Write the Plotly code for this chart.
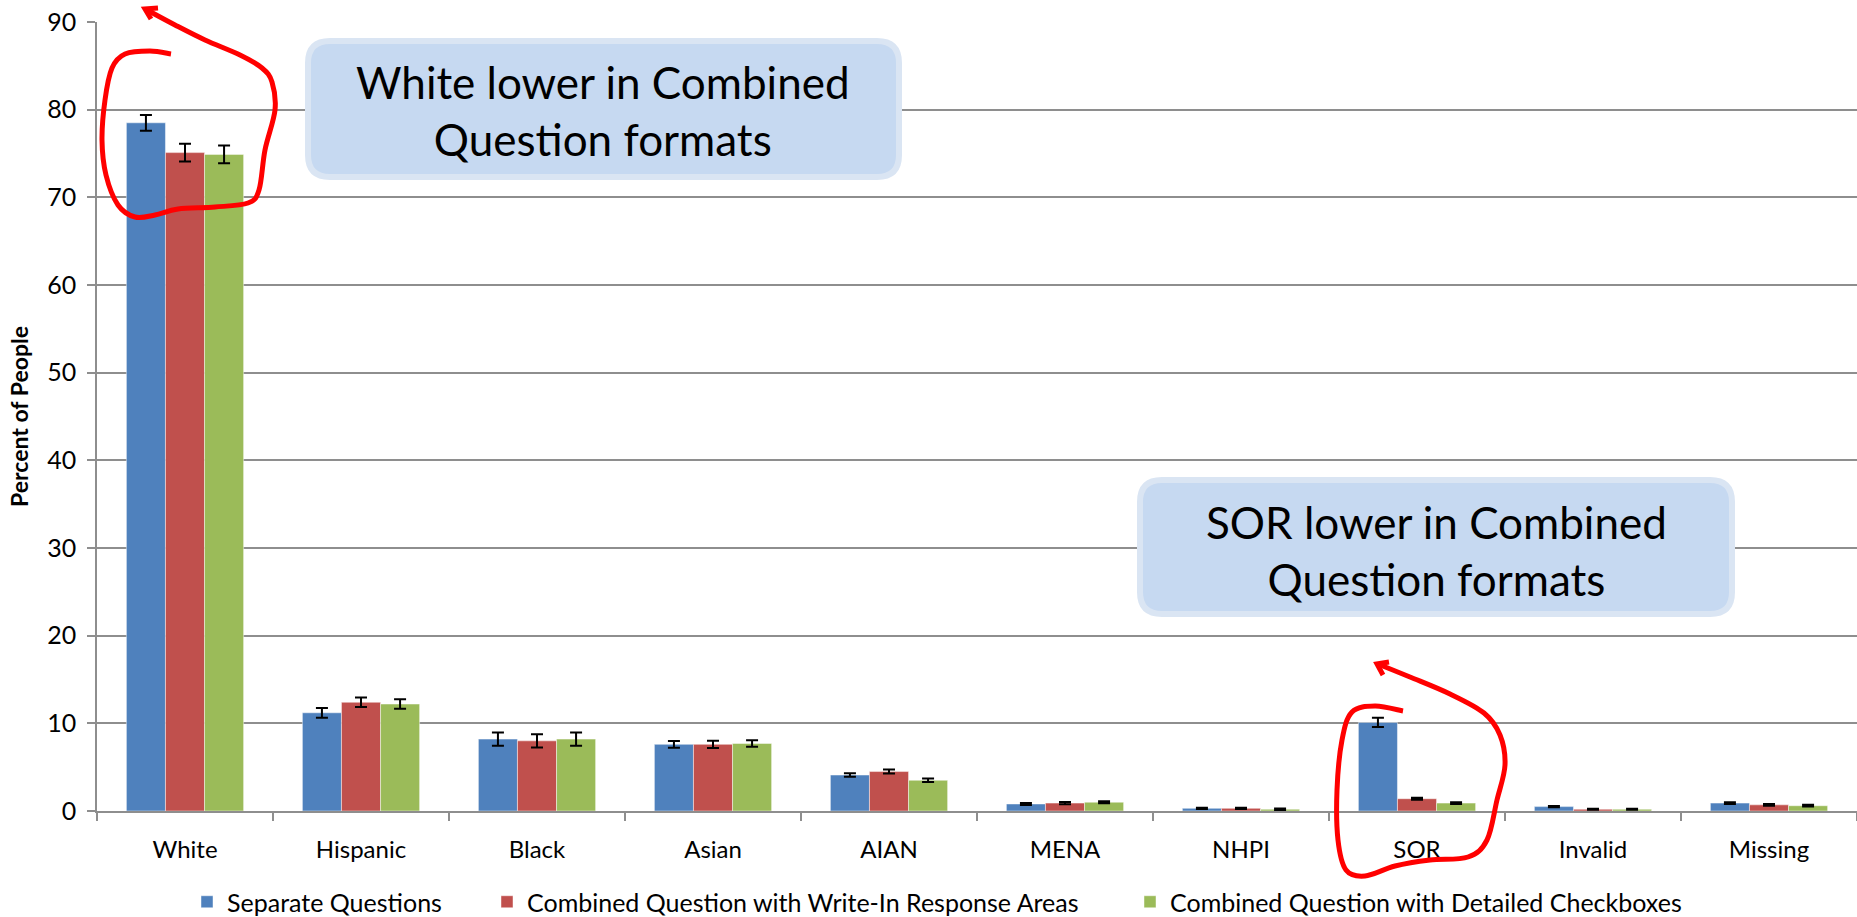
import plotly.graph_objects as go

# ---------------- data ----------------
categories = ["White", "Hispanic", "Black", "Asian", "AIAN", "MENA", "NHPI", "SOR", "Invalid", "Missing"]
series_names = [
    "Separate Questions",
    "Combined Question with Write-In Response Areas",
    "Combined Question with Detailed Checkboxes",
]
separate_vals = [78.5, 11.2, 8.2, 7.6, 4.1, 0.8, 0.3, 10.1, 0.5, 0.9]
separate_err = [0.9, 0.55, 0.75, 0.38, 0.2, 0.12, 0.08, 0.53, 0.08, 0.1]
writein_vals = [75.1, 12.4, 8.0, 7.6, 4.5, 0.9, 0.3, 1.4, 0.2, 0.7]
writein_err = [1.0, 0.55, 0.75, 0.4, 0.22, 0.12, 0.08, 0.12, 0.06, 0.1]
checkbox_vals = [74.9, 12.2, 8.2, 7.7, 3.5, 1.0, 0.2, 0.9, 0.2, 0.6]
checkbox_err = [1.0, 0.55, 0.75, 0.38, 0.2, 0.12, 0.08, 0.1, 0.06, 0.1]
y_ticks = [0, 10, 20, 30, 40, 50, 60, 70, 80, 90]
callouts = ["White lower in Combined<br>Question formats", "SOR lower in Combined<br>Question formats"]

colors = ["#4F81BD", "#C0504D", "#9BBB59"]
FONT = "Lato, Carlito, Calibri, sans-serif"

# ---------------- geometry (pixels) ----------------
W, H = 1857, 917
ML, MR, MT, MB = 97, 0, 22, 106
PW = W - ML - MR
PH = H - MT - MB
BOTTOM = H - MB


def to_paper(px, py):
    return (px - ML) / PW, (BOTTOM - py) / PH


def rounded_rect(x0, y0, x1, y1, r):
    def p(x, y):
        a, b = to_paper(x, y)
        return f"{a:.5f},{b:.5f}"
    return (
        f"M{p(x0 + r, y0)} L{p(x1 - r, y0)} Q{p(x1, y0)} {p(x1, y0 + r)} "
        f"L{p(x1, y1 - r)} Q{p(x1, y1)} {p(x1 - r, y1)} "
        f"L{p(x0 + r, y1)} Q{p(x0, y1)} {p(x0, y1 - r)} "
        f"L{p(x0, y0 + r)} Q{p(x0, y0)} {p(x0 + r, y0)} Z"
    )


def smooth_path(points):
    # Catmull-Rom -> cubic bezier in paper coordinates
    pp = [to_paper(x, y) for x, y in points]
    d = f"M{pp[0][0]:.5f},{pp[0][1]:.5f}"
    n = len(pp)
    for i in range(n - 1):
        p0 = pp[i - 1] if i > 0 else pp[i]
        p1 = pp[i]
        p2 = pp[i + 1]
        p3 = pp[i + 2] if i + 2 < n else pp[i + 1]
        c1 = (p1[0] + (p2[0] - p0[0]) / 6, p1[1] + (p2[1] - p0[1]) / 6)
        c2 = (p2[0] - (p3[0] - p1[0]) / 6, p2[1] - (p3[1] - p1[1]) / 6)
        d += f" C{c1[0]:.5f},{c1[1]:.5f} {c2[0]:.5f},{c2[1]:.5f} {p2[0]:.5f},{p2[1]:.5f}"
    return d


def poly_path(points):
    pp = [to_paper(x, y) for x, y in points]
    return "M" + " L".join(f"{a:.5f},{b:.5f}" for a, b in pp)


# ---------------- figure ----------------
fig = go.Figure()
all_vals = [separate_vals, writein_vals, checkbox_vals]
all_errs = [separate_err, writein_err, checkbox_err]
legend_ids = ["legend", "legend2", "legend3"]
for name, vals, errs, col, lg in zip(series_names, all_vals, all_errs, colors, legend_ids):
    fig.add_trace(go.Bar(
        x=categories, y=vals, name=name, legend=lg,
        marker=dict(color=col, line=dict(color="rgba(255,255,255,0.45)", width=1)),
        error_y=dict(type="data", array=errs, visible=True, color="black", thickness=2, width=6),
    ))

legend_px = [187, 487, 1130]
legend_cy = 902
leg_common = dict(
    orientation="h", xref="container", yref="container", xanchor="left", yanchor="middle",
    y=1 - legend_cy / H, bgcolor="rgba(0,0,0,0)", font=dict(family=FONT, size=25, color="black"),
)

shapes = []
# callout boxes
box_rects = [(308, 41, 899, 177), (1140, 480, 1732, 614)]
for (x0, y0, x1, y1) in box_rects:
    shapes.append(dict(type="path", xref="paper", yref="paper", layer="above",
                       path=rounded_rect(x0, y0, x1, y1, 22),
                       fillcolor="#C6D9F1", line=dict(color="#DAE5F3", width=6)))

# red hand-drawn scribbles
scribble1 = [(171, 54), (150, 51), (125, 54), (112, 68), (105, 100), (102, 140), (106, 175), (118, 205),
             (135, 217), (155, 215), (178, 209), (215, 207), (248, 203), (259, 190), (265, 150),
             (275, 110), (272, 82), (262, 68), (240, 55), (205, 40), (175, 25), (147, 10)]
arrow1 = [(158, 8), (145, 9), (151, 19)]
scribble2 = [(1403, 711), (1375, 706), (1352, 712), (1342, 740), (1337, 790), (1338, 840), (1346, 870),
             (1365, 876), (1395, 866), (1430, 860), (1468, 857), (1487, 840), (1497, 800), (1505, 765),
             (1500, 735), (1484, 713), (1450, 694), (1410, 677), (1378, 664)]
arrow2 = [(1389, 662), (1377, 664), (1383, 675)]
for pts in (scribble1, scribble2):
    shapes.append(dict(type="path", xref="paper", yref="paper", layer="above",
                       path=smooth_path(pts), line=dict(color="#FF0000", width=5)))
for pts in (arrow1, arrow2):
    shapes.append(dict(type="path", xref="paper", yref="paper", layer="above",
                       path=poly_path(pts), line=dict(color="#FF0000", width=5)))

annotations = []
callout_centers = [(603, 110), (1436, 550)]
for txt, (cx, cy) in zip(callouts, callout_centers):
    ax, ay = to_paper(cx, cy)
    annotations.append(dict(text=txt, x=ax, y=ay, xref="paper", yref="paper", showarrow=False,
                            xanchor="center", yanchor="middle", align="center",
                            font=dict(family=FONT, size=44, color="black")))

grid_col = "#8E8E8E"
fig.update_layout(
    width=W, height=H,
    margin=dict(l=ML, r=MR, t=MT, b=MB, autoexpand=False),
    paper_bgcolor="white", plot_bgcolor="white",
    barmode="group", bargap=0.334, bargroupgap=0,
    font=dict(family=FONT, color="black"),
    showlegend=True,
    legend=dict(x=legend_px[0] / W, **leg_common),
    legend2=dict(x=legend_px[1] / W, **leg_common),
    legend3=dict(x=legend_px[2] / W, **leg_common),
    shapes=shapes,
    annotations=annotations,
    xaxis=dict(
        showline=True, linecolor=grid_col, linewidth=1.5,
        ticks="outside", tickson="boundaries", ticklen=8, tickcolor=grid_col, tickwidth=1.5,
        tickfont=dict(family=FONT, size=24, color="black"), ticklabelstandoff=16,
        showgrid=False, zeroline=False,
    ),
    yaxis=dict(
        range=[0, 90], tickvals=y_ticks, showgrid=True, gridcolor=grid_col, gridwidth=1.5,
        showline=True, linecolor=grid_col, linewidth=1.5,
        ticks="outside", ticklen=8, tickcolor=grid_col, tickwidth=1.5,
        tickfont=dict(family=FONT, size=25, color="black"), ticklabelstandoff=6,
        zeroline=False,
        title=dict(text="Percent of People", standoff=12,
                   font=dict(family=FONT, size=23, color="black", weight="bold")),
    ),
)

fig.write_html(
    "out.html",
    config={"displayModeBar": False},
    post_script="document.body.style.margin='0px';document.body.style.overflow='hidden';",
)
